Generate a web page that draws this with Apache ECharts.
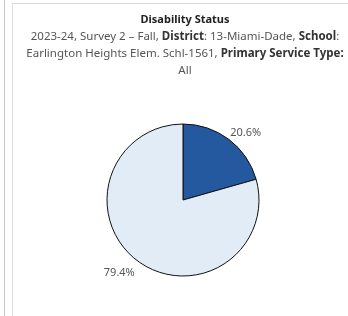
<!DOCTYPE html>
<html>
<head>
<meta charset="utf-8">
<script src="https://cdn.jsdelivr.net/npm/echarts@6/dist/echarts.min.js"></script>
<style>
  html, body { margin: 0; padding: 0; background: #fff; }
  #container { width: 348px; height: 316px; }
</style>
</head>
<body>
<div id="container"></div>
<script>
// disability status share
var categories = ['Disabled', 'Not disabled'];
var values = [20.6, 79.4];
var colors = ['#24589f', '#e1ecf6'];

var dom = document.getElementById('container');
var myChart = echarts.init(dom);

var titleText = '{t|Disability Status}\n' +
  '{n|2023-24, Survey 2 – Fall, }{b|District}{n|: 13-Miami-Dade, }{b|School}{n|:}\n' +
  '{n|Earlington Heights Elem. Schl-1561, }{b|Primary Service Type:}\n' +
  '{n|All}';

var option = {
  animation: false,
  title: {
    text: titleText,
    left: 180,
    top: 6,
    textAlign: 'center',
    textStyle: {
      fontWeight: 'normal',
      rich: {
        t: { fontFamily: 'Noto Sans', fontSize: 11, fontWeight: 'bold', color: '#222', lineHeight: 17 },
        b: { fontFamily: 'Noto Sans', fontSize: 11.5, fontWeight: 'bold', color: '#333', lineHeight: 17 },
        n: { fontFamily: 'Noto Sans', fontSize: 11.5, fontWeight: 'normal', color: '#555', lineHeight: 17 }
      }
    }
  },
  graphic: [
    { type: 'line', shape: { x1: 4.5, y1: 0, x2: 4.5, y2: 316 }, style: { stroke: '#c8c8c8', lineWidth: 1 } },
    { type: 'line', shape: { x1: 12.5, y1: 3, x2: 12.5, y2: 316 }, style: { stroke: '#dcdcdc', lineWidth: 1 } },
    { type: 'line', shape: { x1: 12, y1: 3.5, x2: 348, y2: 3.5 }, style: { stroke: '#dcdcdc', lineWidth: 1 } }
  ],
  series: [{
    type: 'pie',
    center: [183, 200],
    radius: 76,
    startAngle: 90,
    clockwise: true,
    data: categories.map(function (c, i) {
      return { name: c, value: values[i], itemStyle: { color: colors[i] } };
    }),
    itemStyle: { borderColor: '#111', borderWidth: 1 },
    label: {
      show: true,
      position: 'outside',
      formatter: function (p) { return p.value.toFixed(1) + '%'; },
      fontFamily: 'Noto Sans',
      fontSize: 11,
      color: '#555'
    },
    labelLine: { show: false, length: 4, length2: 0 },
    labelLayout: function (p) {
      // nudge labels toward where the original tool puts them
      return p.dataIndex === 0 ? { dx: -6, dy: -3 } : { dx: 5, dy: 9 };
    },
    emphasis: { disabled: true }
  }]
};
myChart.setOption(option);
</script>
</body>
</html>
